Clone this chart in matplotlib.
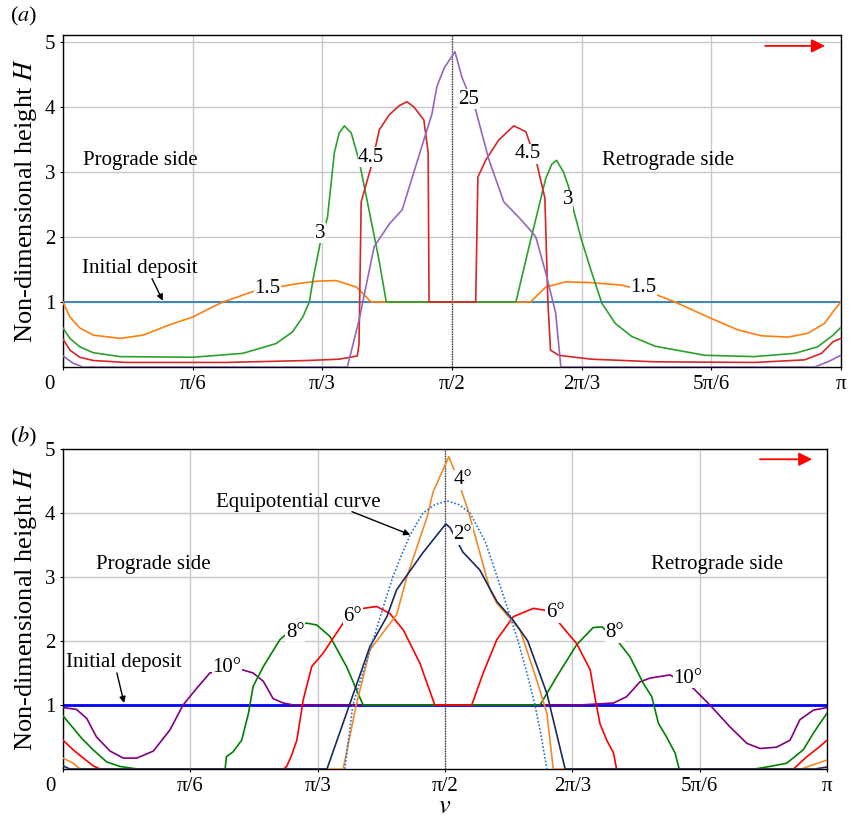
import numpy as np
import matplotlib
matplotlib.use("Agg")
import matplotlib.pyplot as plt

plt.rcParams["font.family"] = ["Liberation Serif", "DejaVu Serif"]
plt.rcParams["mathtext.fontset"] = "stix"

# ---------------- panel (a): deposit profiles, labelled by parameter ----------------
a_initial_v = [0, 180]
a_initial_h = [1.0, 1.0]

a15_v = [0, 1.6, 3.9, 7.0, 13.2, 18.5, 24.7, 30.1, 33.9, 37.0, 40.1, 43.9, 54.0, 58.8, 63.2,
         67.9, 71.3, 108.2, 111.7, 116.3, 121.6, 129.3, 136.2, 141.6, 149.2, 156.2, 161.6,
         167.8, 172.4, 176.2, 178.5, 180]
a15_h = [1.0, 0.77, 0.6, 0.49, 0.44, 0.49, 0.65, 0.77, 0.9, 1.0, 1.07, 1.16, 1.28, 1.32, 1.33,
         1.23, 1.0, 1.0, 1.23, 1.31, 1.3, 1.26, 1.14, 1.0, 0.77, 0.57, 0.48,
         0.46, 0.52, 0.67, 0.88, 1.0]

a3_v = [0, 1.6, 3.9, 7.0, 13.2, 30.1, 41.6, 49.3, 53.1, 55.5, 57.0, 58.0, 59.5, 61.2, 62.0,
        62.8, 63.9, 65.1, 66.7, 68.5, 70.8, 73.2, 74.8, 104.8, 108.2, 111.7, 113.1, 114.2,
        115.8, 117.0, 118.2, 120.0, 122.4, 124.7, 127.8, 131.6, 137.0, 148.5, 160.0, 169.3,
        174.6, 178.2, 180]
a3_h = [0.6, 0.44, 0.31, 0.22, 0.16, 0.15, 0.21, 0.36, 0.54, 0.77, 1.0, 1.4, 1.9, 2.3, 2.8,
        3.3, 3.6, 3.71, 3.6, 3.18, 2.42, 1.62, 1.0, 1.0, 1.95, 2.9, 3.12, 3.18,
        3.0, 2.77, 2.4, 1.95, 1.44, 0.98, 0.67, 0.47, 0.32, 0.18, 0.16, 0.21,
        0.31, 0.49, 0.61]

a45_v = [0, 1.6, 3.9, 7.0, 14.6, 37.7, 56.6, 63.9, 68.1, 68.5, 69.0, 71.3, 73.2, 75.5, 77.8,
         79.6, 81.2, 83.5, 84.5, 84.7, 95.5, 96.0, 97.8, 100.8, 104.3, 107.1, 109.6, 111.5,
         112.2, 112.8, 114.7, 122.3, 137.0, 160.0, 171.6, 175.5, 178.2, 180]
a45_h = [0.43, 0.26, 0.15, 0.1, 0.07, 0.07, 0.1, 0.12, 0.17, 0.35, 2.54, 3.08, 3.65, 3.88, 4.02,
         4.08, 4.0, 3.8, 3.3, 1.0, 1.0, 2.92, 3.18, 3.49, 3.71, 3.62, 3.14, 2.6,
         1.0, 0.26, 0.18, 0.12, 0.08, 0.07, 0.11, 0.21, 0.39, 0.44]

a25_v = [0, 2.3, 4.6, 65.8, 68.5, 72, 75.5, 78.5, 81.9, 85.4, 86.5, 88.2, 90.7, 92.3, 93.9,
         95.5, 98.5, 102, 105.5, 108.2, 109.4, 111.7, 114, 115.2, 173.9, 177, 180]
a25_h = [0.17, 0.06, 0.0, 0.0, 0.72, 1.85, 2.2, 2.42, 3.15, 3.9, 4.31, 4.6, 4.85, 4.46, 4.2,
         3.95, 3.2, 2.54, 2.3, 2.1, 2.0, 1.45, 0.83, 0.0, 0.0, 0.08, 0.18]

# ---------------- panel (b): deposit profiles, labelled by angle ----------------
b_initial_v = [0, 180]
b_initial_h = [1.0, 1.0]

b2_v = [0, 1.6, 62.2, 66.8, 72.3, 76.3, 78.6, 84.8, 90.2, 91.2, 94.2, 98.2, 100.3, 102.3,
        106, 109.5, 114, 118.3, 177.2, 180]
b2_h = [0.05, 0.0, 0.0, 0.87, 1.91, 2.38, 2.8, 3.38, 3.83, 3.77, 3.39, 3.11, 2.85, 2.61,
        2.33, 2.0, 1.18, 0.0, 0.0, 0.03]

b4_v = [0, 2.4, 4.0, 66.0, 69.1, 72.3, 78.6, 80.2, 81.0, 85.8, 87.2, 90.9, 92.4, 95.4, 98.2,
        100.6, 102.2, 107.7, 111.6, 114.0, 115.5, 174.0, 176.0, 180]
b4_h = [0.17, 0.09, 0.0, 0.0, 1.0, 1.86, 2.41, 2.8, 3.0, 3.94, 4.33, 4.88, 4.63, 4.05, 3.38,
        2.8, 2.59, 2.17, 1.39, 0.87, 0.0, 0.0, 0.05, 0.14]

b6_v = [0, 2.4, 4.8, 7.1, 8.7, 52.0, 52.7, 53.9, 55.1, 56.6, 58.6, 61.3, 66.0, 68.8, 70.8,
        73.9, 77.0, 80.2, 84.1, 87.6, 96.3, 99.0, 102.2, 106.1, 110.8, 113.6, 116.3, 121.0,
        124.2, 125.3, 126.5, 128.1, 129.7, 130.3, 130.4, 172.1, 175.2, 178.3, 180]
b6_h = [0.45, 0.3, 0.17, 0.05, 0.0, 0.0, 0.04, 0.22, 0.45, 1.08, 1.6, 1.81, 2.28, 2.45, 2.51,
        2.54, 2.43, 2.17, 1.65, 1.0, 1.0, 1.5, 2.02, 2.38, 2.51, 2.48, 2.33, 1.96,
        1.55, 1.13, 0.71, 0.45, 0.25, 0.04, 0.0, 0.0, 0.19, 0.35, 0.45]

b8_v = [0, 2.4, 4.4, 7.1, 10.3, 13.4, 17.4, 38.2, 38.5, 40.1, 42.1, 43.7, 44.8, 47.2, 51.1,
        54.2, 57.4, 59.8, 62.9, 66.8, 70.7, 112.4, 116.3, 121.0, 124.9, 127.0, 130.8, 133.6,
        136.7, 138.7, 140.3, 142.2, 144.2, 145.0, 145.2, 163.0, 166.6, 170.5, 174.4, 176.8,
        178.3, 180]
b8_h = [0.83, 0.64, 0.48, 0.3, 0.11, 0.04, 0.0, 0.0, 0.19, 0.27, 0.45, 0.87, 1.29, 1.6, 2.02,
        2.2, 2.28, 2.25, 2.07, 1.6, 1.0, 1.0, 1.44, 1.94, 2.21, 2.22, 1.99, 1.75,
        1.34, 1.13, 0.71, 0.5, 0.25, 0.04, 0.0, 0.0, 0.04, 0.09, 0.3, 0.56,
        0.71, 0.87]

b10_v = [0, 3.2, 5.6, 7.9, 11.1, 14.2, 17.4, 21.3, 25.2, 28.3, 31.5, 34.6, 41.7, 44.8, 47.2,
         49.5, 51.9, 54.3, 121.8, 129.7, 132.8, 135.9, 138.3, 143.0, 148.5, 152.4, 157.1,
         161.1, 164.2, 168.1, 171.3, 173.6, 176.8, 180]
b10_h = [0.96, 0.93, 0.79, 0.5, 0.28, 0.17, 0.17, 0.28, 0.61, 1.0, 1.26, 1.5, 1.56, 1.5, 1.37,
         1.1, 1.03, 1.0, 1.0, 1.03, 1.13, 1.36, 1.42, 1.47, 1.26, 1.0, 0.66,
         0.4, 0.32, 0.34, 0.45, 0.77, 0.92, 0.96]

equi_v = [66.4, 68.3, 70.6, 73.0, 75.3, 77.7, 79.8, 81.8, 84.8, 87.6, 90.5, 93.3, 95.9, 99.5,
          102.3, 104.8, 107.2, 109.3, 111.2, 112.7, 114.0]
equi_h = [0.0, 1.0, 1.5, 2.0, 2.5, 3.0, 3.35, 3.66, 4.0, 4.13, 4.19, 4.13, 4.0, 3.55,
          3.0, 2.5, 2.0, 1.5, 1.0, 0.5, 0.0]

tick_deg = [0, 30, 60, 90, 120, 150, 180]
tick_labels = ["", "π/6", "π/3", "π/2", "2π/3", "5π/6", "π"]

TICK_FS = 15
TEXT_FS = 15
LABEL_FS = 19

fig = plt.figure(figsize=(8.52, 8.17), dpi=100)
ax_a = fig.add_axes([0.0739, 0.5508, 0.9131, 0.4064])
ax_b = fig.add_axes([0.0739, 0.0588, 0.8968, 0.3916])

r = np.deg2rad


def style_axes(ax, ytop):
    ax.set_xlim(0, np.pi)
    ax.set_ylim(0, ytop)
    ax.set_xticks(r(np.array(tick_deg)))
    ax.set_xticklabels(tick_labels, fontsize=TICK_FS)
    ax.set_yticks([1, 2, 3, 4, 5])
    ax.set_yticklabels(["1", "2", "3", "4", "5"], fontsize=TICK_FS)
    ax.tick_params(direction="out", length=2.5, width=0.8, pad=3)
    ax.grid(True, color="#c8c8c8", linewidth=1.0)
    ax.set_axisbelow(True)
    for s in ax.spines.values():
        s.set_linewidth(1.0)
        s.set_color("black")
    ax.axvline(np.pi / 2, color="#333333", linestyle=(0, (1, 1)), linewidth=0.9, zorder=1.5)
    ax.set_ylabel("Non-dimensional height $H$", fontsize=LABEL_FS, labelpad=4)
    ax.text(-0.017, -0.025, "0", transform=ax.transAxes, ha="center", va="top",
            fontsize=TICK_FS)


def curve_label(ax, v, h, s):
    ax.text(r(v), h, s, fontsize=TEXT_FS, ha="center", va="center", zorder=5,
            bbox=dict(facecolor="white", edgecolor="none", pad=0.3))


# panel (a)
style_axes(ax_a, 5.108)
lw = 1.2
ax_a.plot(r(np.array(a_initial_v)), a_initial_h, color="#1f77b4", lw=lw, zorder=3)
ax_a.plot(r(np.array(a15_v)), a15_h, color="#ff7f0e", lw=lw, zorder=3)
ax_a.plot(r(np.array(a3_v)), a3_h, color="#2ca02c", lw=lw, zorder=3)
ax_a.plot(r(np.array(a45_v)), a45_h, color="#d62728", lw=lw, zorder=3)
ax_a.plot(r(np.array(a25_v)), a25_h, color="#9467bd", lw=lw, zorder=3)

curve_label(ax_a, 47.3, 1.2, "1.5")
curve_label(ax_a, 134.3, 1.22, "1.5")
curve_label(ax_a, 59.5, 2.06, "3")
curve_label(ax_a, 116.8, 2.57, "3")
curve_label(ax_a, 71.3, 3.23, "4.5")
curve_label(ax_a, 107.5, 3.28, "4.5")
curve_label(ax_a, 93.9, 4.12, "25")

ax_a.text(r(18), 3.17, "Prograde side", fontsize=TEXT_FS, ha="center", va="center")
ax_a.text(r(140.1), 3.17, "Retrograde side", fontsize=TEXT_FS, ha="center", va="center")
ax_a.text(r(17.8), 1.52, "Initial deposit", fontsize=TEXT_FS, ha="center", va="center")
ax_a.annotate("", xy=(r(23.1), 1.02), xytext=(r(20.6), 1.36),
              arrowprops=dict(arrowstyle="-|>", color="black", lw=1.0,
                              mutation_scale=9, shrinkA=0, shrinkB=0))
ax_a.annotate("", xy=(r(176.3), 4.94), xytext=(r(162.5), 4.94),
              arrowprops=dict(arrowstyle="-|>", color="red", lw=1.3,
                              mutation_scale=20, shrinkA=0, shrinkB=0))
fig.text(10 / 852, 1 - 16 / 817, "($a$)", fontsize=16, ha="left", va="center")

# panel (b)
style_axes(ax_b, 5.0)
ax_b.plot(r(np.array(b_initial_v)), b_initial_h, color="#0000ff", lw=2.0, zorder=2.5)
ax_b.plot(r(np.array(b10_v)), b10_h, color="#800080", lw=lw, zorder=3)
ax_b.plot(r(np.array(b8_v)), b8_h, color="#008000", lw=lw, zorder=3)
ax_b.plot(r(np.array(b6_v)), b6_h, color="#ff0000", lw=lw, zorder=3)
ax_b.plot(r(np.array(b4_v)), b4_h, color="#f28a28", lw=lw, zorder=3)
ax_b.plot(r(np.array(b2_v)), b2_h, color="#1b2a5c", lw=lw, zorder=3)
ax_b.plot(r(np.array(equi_v)), equi_h, color="#2a6fd0", lw=1.2, linestyle=(0, (1, 1.2)),
          zorder=3)

curve_label(ax_b, 94.2, 4.52, "4°")
curve_label(ax_b, 94.2, 3.66, "2°")
curve_label(ax_b, 68.3, 2.38, "6°")
curve_label(ax_b, 115.9, 2.44, "6°")
curve_label(ax_b, 54.7, 2.14, "8°")
curve_label(ax_b, 130.0, 2.13, "8°")
curve_label(ax_b, 38.6, 1.58, "10°")
curve_label(ax_b, 147.2, 1.42, "10°")

ax_b.text(r(21.2), 3.19, "Prograde side", fontsize=TEXT_FS, ha="center", va="center")
ax_b.text(r(154.1), 3.19, "Retrograde side", fontsize=TEXT_FS, ha="center", va="center")
ax_b.text(r(14.4), 1.66, "Initial deposit", fontsize=TEXT_FS, ha="center", va="center")
ax_b.annotate("", xy=(r(14.4), 1.03), xytext=(r(12.7), 1.5),
              arrowprops=dict(arrowstyle="-|>", color="black", lw=1.0,
                              mutation_scale=9, shrinkA=0, shrinkB=0))
ax_b.text(r(55.4), 4.17, "Equipotential curve", fontsize=TEXT_FS, ha="center", va="center")
ax_b.annotate("", xy=(r(81.8), 3.66), xytext=(r(68.1), 4.02),
              arrowprops=dict(arrowstyle="-|>", color="black", lw=1.0,
                              mutation_scale=9, shrinkA=0, shrinkB=0))
ax_b.annotate("", xy=(r(176.5), 4.84), xytext=(r(164.2), 4.84),
              arrowprops=dict(arrowstyle="-|>", color="red", lw=1.3,
                              mutation_scale=20, shrinkA=0, shrinkB=0))
ax_b.set_xlabel("$v$", fontsize=LABEL_FS, labelpad=0)
fig.text(10 / 852, 1 - 437 / 817, "($b$)", fontsize=16, ha="left", va="center")

fig.savefig("out.png", dpi=100)
